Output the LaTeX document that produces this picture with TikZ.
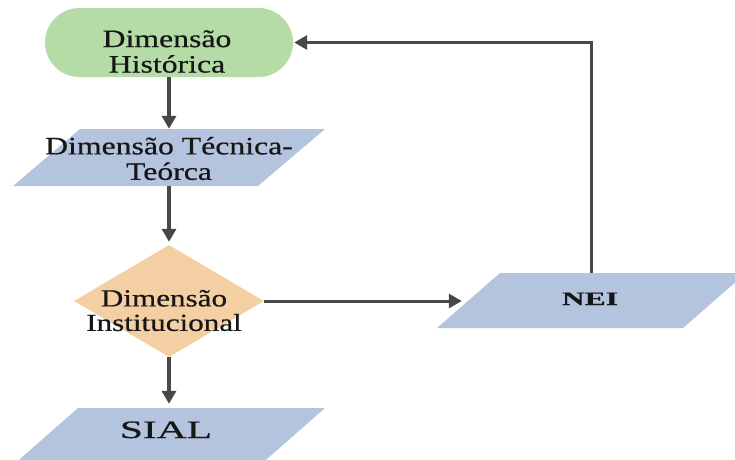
\documentclass[tikz,border=0pt]{standalone}
\usepackage{fontspec}
\setmainfont{Liberation Serif}[FakeStretch=1.27,FakeBold=0.5]
\newfontfamily\widefont{Liberation Serif}[FakeStretch=1.66,FakeBold=0.5]
\usetikzlibrary{arrows.meta,shapes.geometric}
\definecolor{hgreen}{RGB}{181,220,166}
\definecolor{pblue}{RGB}{180,196,222}
\definecolor{dorange}{RGB}{245,207,164}
\definecolor{arrgray}{RGB}{72,72,72}
\definecolor{txtc}{RGB}{22,22,22}
\tikzset{
  arr/.style={draw=arrgray, line width=3.4pt, -{Triangle[length=13pt,width=14pt]}},
  txt/.style={text=txtc, inner sep=0pt, align=center, font=\fontsize{25}{25.5}\selectfont},
  txtsm/.style={txt, font=\fontsize{24.5}{24.5}\selectfont},
  anchorbox/.style={inner sep=0pt, minimum width=1pt},
}
\begin{document}
\begin{tikzpicture}[x=1pt,y=-1pt]
\useasboundingbox (0,0) rectangle (735,459);
\clip (0,0) rectangle (735,459);
% shapes
\node[rectangle, rounded corners=34.5pt, fill=hgreen, minimum width=248pt, minimum height=69pt, inner sep=0pt] (hist) at (169,42.5) {};
\fill[pblue] (13,186) -- (80,129) -- (325,129) -- (258,186) -- cycle;
\node[anchorbox, minimum height=57pt] (tt) at (169,157.5) {};
\node[diamond, fill=dorange, minimum width=190pt, minimum height=112pt, inner sep=0pt] (inst) at (169,301) {};
\fill[pblue] (437,328) -- (500,273) -- (746,273) -- (683,328) -- cycle;
\node[inner sep=0pt, minimum width=250pt, minimum height=55pt] (nei) at (591,300.5) {};
\fill[pblue] (12,466) -- (78,408) -- (325,408) -- (259,466) -- cycle;
\node[anchorbox, minimum height=46pt] (sial) at (169,431) {};
% texts
\node[txt] (histT) at (167,51.5) {Dimensão\\Histórica};
\node[txt] (ttT) at (169,158.5) {Dimensão Técnica-\\Teórca};
\node[txtsm] (instT) at (164,310.5) {Dimensão\\Institucional};
\node[txt, anchor=base, font=\widefont\bfseries\fontsize{19}{22}\selectfont] (neiT) at (590,305) {NEI};
\node[txt, anchor=base, font=\widefont\fontsize{25}{28}\selectfont] (sialT) at (166,438) {SIAL};
% connectors
\draw[arr] (hist.south) -- (tt.north);
\draw[arr, shorten >=3pt] (tt.south) -- (inst.north);
\draw[arr, shorten >=4pt] (inst.south) -- (sial.north);
\draw[arr, line width=3pt, shorten >=4pt] (inst.east) -- (inst.east -| nei.west);
\draw[arr, line width=3pt, shorten >=1pt] (nei.north) |- (hist.east);
\end{tikzpicture}
\end{document}
